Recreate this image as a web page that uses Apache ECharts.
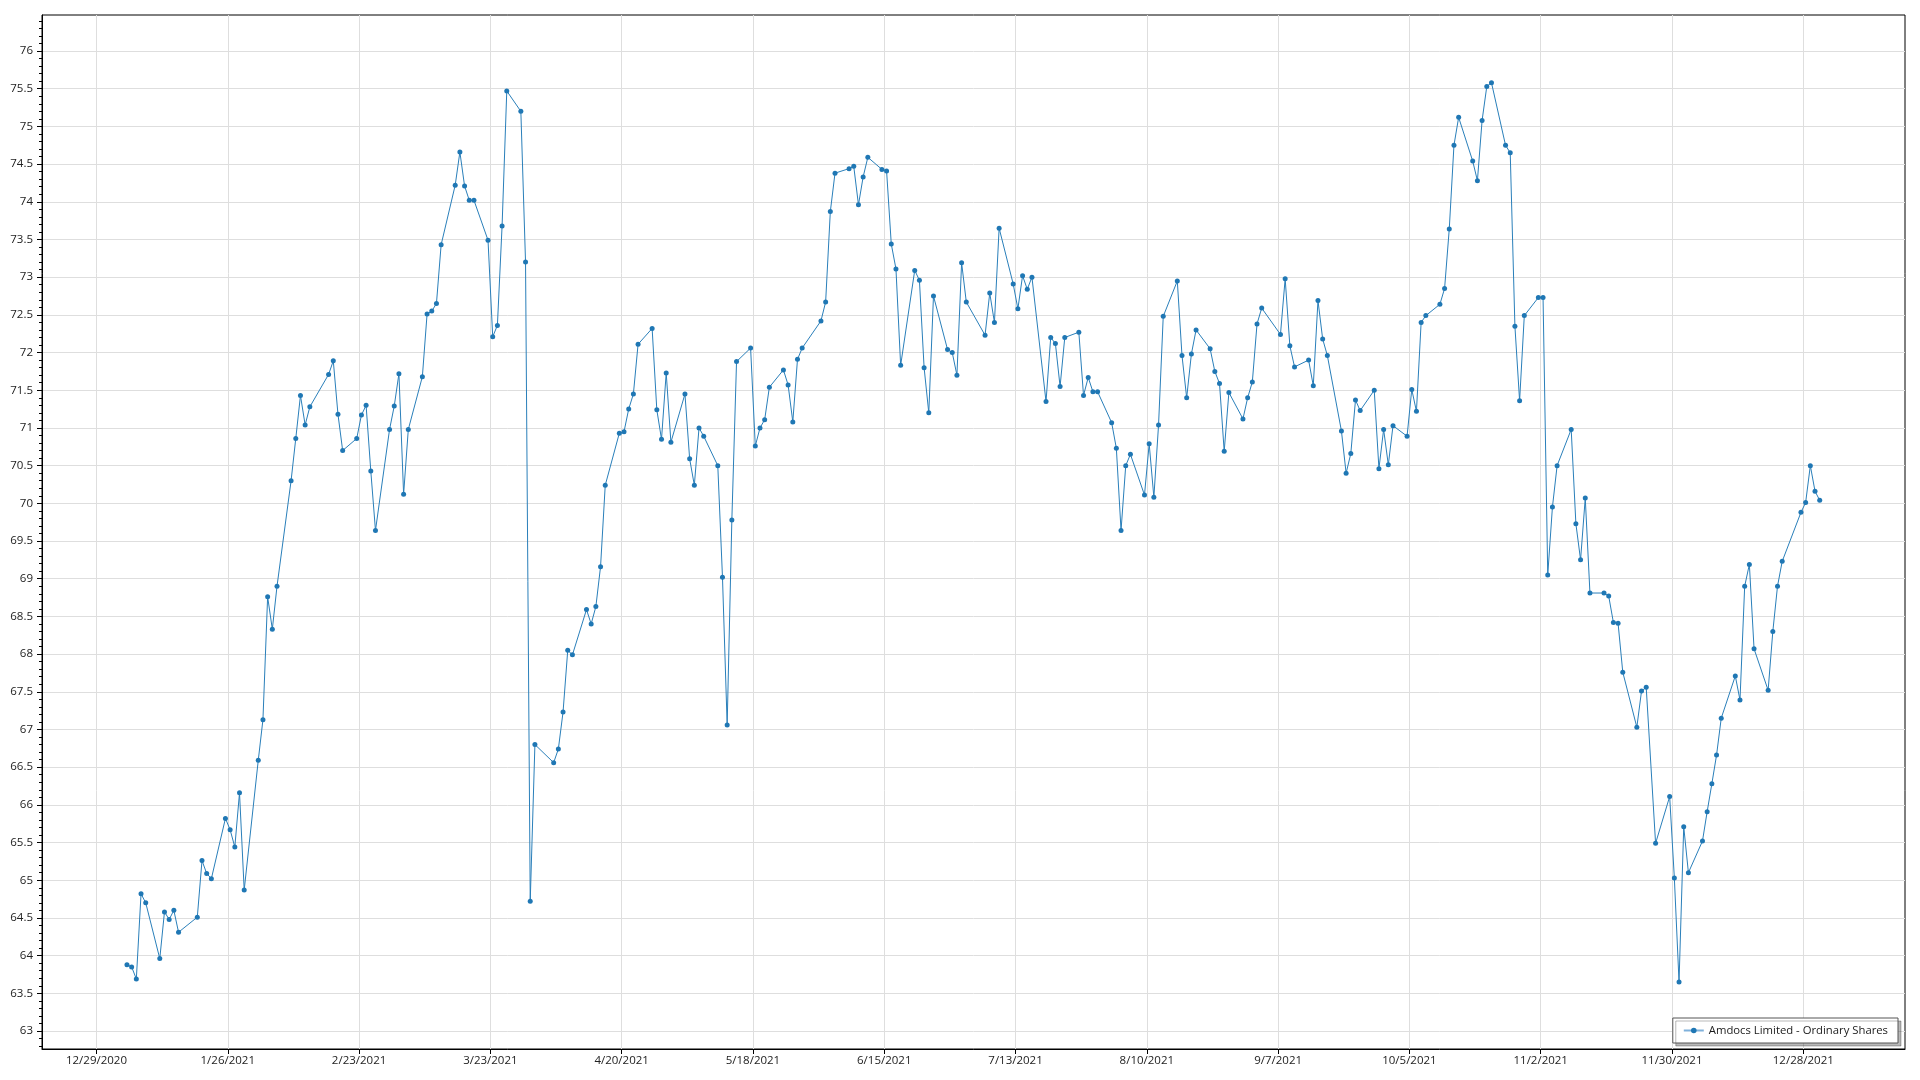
<!DOCTYPE html>
<html>
<head>
<meta charset="utf-8">
<script src="https://cdn.jsdelivr.net/npm/echarts@6/dist/echarts.min.js"></script>
<style>
html,body{margin:0;padding:0;background:#fff;}
#chart{width:1920px;height:1080px;}
</style>
</head>
<body>
<div id="chart"></div>
<script>
// ---- Data: trading days (day of month) and closing values per month, 2021 ----
const janDays = [4,5,6,7,8,11,12,13,14,15,19,20,21,22,25,26,27,28,29];
const janVals = [63.88,63.85,63.69,64.82,64.70,63.96,64.58,64.48,64.60,64.31,64.51,65.26,65.09,65.02,65.82,65.67,65.44,66.16,64.87];
const febDays = [1,2,3,4,5,8,9,10,11,12,16,17,18,19,22,23,24,25,26];
const febVals = [66.59,67.13,68.76,68.33,68.90,70.30,70.86,71.43,71.04,71.28,71.71,71.89,71.18,70.70,70.86,71.17,71.30,70.43,69.64];
const marDays = [1,2,3,4,5,8,9,10,11,12,15,16,17,18,19,22,23,24,25,26,29,30,31];
const marVals = [70.98,71.29,71.72,70.12,70.98,71.68,72.51,72.55,72.65,73.43,74.22,74.66,74.21,74.02,74.02,73.49,72.21,72.36,73.68,75.47,75.20,73.20,64.72];
const aprDays = [1,5,6,7,8,9,12,13,14,15,16,19,20,21,22,23,26,27,28,29,30];
const aprVals = [66.80,66.56,66.74,67.23,68.05,67.99,68.59,68.40,68.63,69.16,70.24,70.93,70.95,71.25,71.45,72.11,72.32,71.24,70.85,71.73,70.81];
const mayDays = [3,4,5,6,7,10,11,12,13,14,17,18,19,20,21,24,25,26,27,28];
const mayVals = [71.45,70.59,70.24,71.00,70.89,70.50,69.02,67.06,69.78,71.88,72.06,70.76,71.00,71.11,71.54,71.77,71.57,71.08,71.91,72.06];
const junDays = [1,2,3,4,7,8,9,10,11,14,15,16,17,18,21,22,23,24,25,28,29,30];
const junVals = [72.42,72.67,73.87,74.38,74.44,74.47,73.96,74.33,74.59,74.43,74.41,73.44,73.11,71.83,73.09,72.96,71.80,71.20,72.75,72.04,72.00,71.70];
const julDays = [1,2,6,7,8,9,12,13,14,15,16,19,20,21,22,23,26,27,28,29,30];
const julVals = [73.19,72.67,72.23,72.79,72.40,73.65,72.91,72.58,73.02,72.84,73.00,71.35,72.20,72.12,71.55,72.20,72.27,71.43,71.67,71.48,71.48];
const augDays = [2,3,4,5,6,9,10,11,12,13,16,17,18,19,20,23,24,25,26,27,30,31];
const augVals = [71.07,70.73,69.64,70.50,70.65,70.11,70.79,70.08,71.04,72.48,72.95,71.96,71.40,71.98,72.30,72.05,71.75,71.59,70.69,71.47,71.12,71.40];
const sepDays = [1,2,3,7,8,9,10,13,14,15,16,17,20,21,22,23,24,27,28,29,30];
const sepVals = [71.61,72.38,72.59,72.24,72.98,72.09,71.81,71.90,71.56,72.69,72.18,71.96,70.96,70.40,70.66,71.37,71.23,71.50,70.46,70.98,70.51];
const octDays = [1,4,5,6,7,8,11,12,13,14,15,18,19,20,21,22,25,26,27,28,29];
const octVals = [71.03,70.89,71.51,71.22,72.40,72.49,72.64,72.85,73.64,74.75,75.12,74.54,74.28,75.08,75.53,75.58,74.75,74.65,72.35,71.36,72.49];
const novDays = [1,2,3,4,5,8,9,10,11,12,15,16,17,18,19,22,23,24,26,29,30];
const novVals = [72.73,72.73,69.05,69.95,70.50,70.98,69.73,69.25,70.07,68.81,68.81,68.77,68.42,68.41,67.76,67.03,67.51,67.56,65.49,66.11,65.03];
const decDays = [1,2,3,6,7,8,9,10,13,14,15,16,17,20,21,22,23,27,28,29,30,31];
const decVals = [63.65,65.71,65.10,65.52,65.91,66.28,66.66,67.15,67.71,67.39,68.90,69.19,68.07,67.52,68.30,68.90,69.23,69.88,70.01,70.50,70.16,70.04];

const seriesName = 'Amdocs Limited - Ordinary Shares';

// x tick labels (M/D/YYYY)
const xTickLabels = ['12/29/2020','1/26/2021','2/23/2021','3/23/2021','4/20/2021','5/18/2021','6/15/2021','7/13/2021','8/10/2021','9/7/2021','10/5/2021','11/2/2021','11/30/2021','12/28/2021'];
// y tick labels
const yTickLabels = [63,63.5,64,64.5,65,65.5,66,66.5,67,67.5,68,68.5,69,69.5,70,70.5,71,71.5,72,72.5,73,73.5,74,74.5,75,75.5,76];

// ---- build ----
const months = [[janDays,janVals],[febDays,febVals],[marDays,marVals],[aprDays,aprVals],[mayDays,mayVals],[junDays,junVals],[julDays,julVals],[augDays,augVals],[sepDays,sepVals],[octDays,octVals],[novDays,novVals],[decDays,decVals]];
const data = [];
months.forEach(function(m, mi){
  m[0].forEach(function(d, i){
    data.push([Date.UTC(2021, mi, d, 12), m[1][i]]);
  });
});

function parseMDY(s){
  const p = s.split('/');
  return Date.UTC(+p[2], +p[0]-1, +p[1]);
}
const xTicks = xTickLabels.map(parseMDY);
const DAY = 86400000;
const x0 = xTicks[0];
const xMin = x0 - 11.62*DAY;
const xMax = x0 + 385.69*DAY;
const yMin = 62.761, yMax = 76.478;

const minorTicks = [];
for (let k = 628; k <= 764; k++) {
  if (k % 5 !== 0) minorTicks.push(k/10);
}

const FONT = '"Open Sans","Noto Sans",sans-serif';

function fmtDate(v){
  const d = new Date(v);
  return (d.getUTCMonth()+1) + '/' + d.getUTCDate() + '/' + d.getUTCFullYear();
}

const chart = echarts.init(document.getElementById('chart'), null, {renderer:'canvas'});
chart.setOption({
  animation: false,
  backgroundColor: '#ffffff',
  grid: {left: 42, right: 15, top: 15, bottom: 31, show: true, borderColor: '#000', borderWidth: 1, containLabel: false, outerBoundsMode: 'none'},
  legend: {
    data: [seriesName],
    right: 22, bottom: 37,
    backgroundColor: '#fff',
    borderColor: '#555', borderWidth: 1,
    shadowColor: 'rgba(0,0,0,0.28)', shadowOffsetX: 3, shadowOffsetY: 3, shadowBlur: 0,
    padding: [7, 10, 7, 10],
    itemWidth: 20, itemHeight: 7, itemGap: 5,
    lineStyle: {color: '#7fb1db', width: 2},
    textStyle: {fontSize: 11.3, color: '#1a1a1a', fontFamily: FONT}
  },
  xAxis: {
    type: 'value', min: xMin, max: xMax, scale: true,
    axisLine: {show: true, onZero: false, lineStyle: {color: '#000', width: 1}},
    axisTick: {show: true, customValues: xTicks, length: 5, lineStyle: {color: '#000'}},
    axisLabel: {customValues: xTicks, formatter: fmtDate, color: '#222', fontSize: 11.5, fontFamily: FONT, margin: 6, hideOverlap: false, showMinLabel: true, showMaxLabel: true},
    splitLine: {show: true, lineStyle: {color: '#dedede', width: 1}},
    minorTick: {show: false}
  },
  yAxis: [{
    type: 'value', min: yMin, max: yMax, position: 'left', scale: true,
    axisLine: {show: true, onZero: false, lineStyle: {color: '#000', width: 1}},
    axisTick: {show: true, customValues: yTickLabels, length: 5, lineStyle: {color: '#000'}},
    axisLabel: {customValues: yTickLabels, color: '#222', fontSize: 11.5, fontFamily: FONT, margin: 9, formatter: function(v){ return String(v); }},
    splitLine: {show: true, lineStyle: {color: '#dedede', width: 1}}
  }, {
    type: 'value', min: yMin, max: yMax, position: 'left', scale: true,
    axisLine: {show: false},
    axisTick: {show: true, customValues: minorTicks, length: 3, lineStyle: {color: '#000'}},
    axisLabel: {show: false},
    splitLine: {show: false}
  }],
  series: [{
    name: seriesName,
    type: 'line',
    yAxisIndex: 0,
    data: data,
    symbol: 'circle',
    symbolSize: 5,
    showSymbol: true,
    showAllSymbol: true,
    color: '#1f77b4',
    itemStyle: {color: '#1f77b4'},
    lineStyle: {color: '#2a7fba', width: 1},
    emphasis: {disabled: true}
  }]
});
</script>
</body>
</html>
